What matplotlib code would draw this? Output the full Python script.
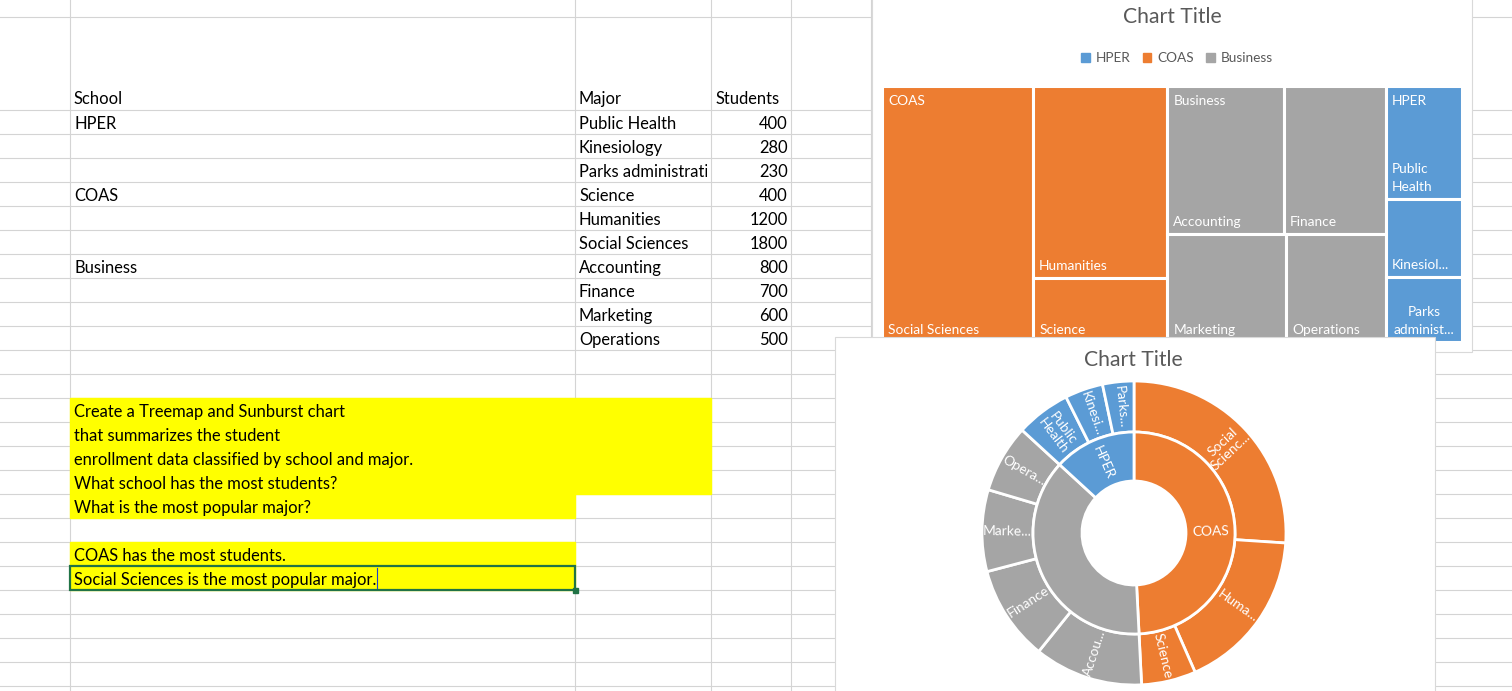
import matplotlib
matplotlib.use("Agg")
import numpy as np
import matplotlib.pyplot as plt
from matplotlib.patches import Rectangle, Patch
from matplotlib.transforms import Bbox, TransformedBbox

plt.rcParams["font.family"] = ["Lato", "DejaVu Sans"]

# === DATA ===
schools = ["HPER", "COAS", "Business"]
school_colors = ["#5B9BD5", "#ED7D31", "#A5A5A5"]
majors = ["Public Health", "Kinesiology", "Parks administration", "Science", "Humanities",
          "Social Sciences", "Accounting", "Finance", "Marketing", "Operations"]
major_school = ["HPER", "HPER", "HPER", "COAS", "COAS", "COAS",
                "Business", "Business", "Business", "Business"]
students = [400, 280, 230, 400, 1200, 1800, 800, 700, 600, 500]

# labels as the charts show them (Excel truncates long names)
treemap_labels = ["Public\nHealth", "Kinesiol...", "Parks\nadminist...", "Science", "Humanities",
                  "Social Sciences", "Accounting", "Finance", "Marketing", "Operations"]
sunburst_labels = ["Public\nHealth", "Kinesi...", "Parks...", "Science", "Huma...",
                   "Social\nScienc...", "Accou...", "Finance", "Marke...", "Opera..."]
sunburst_school_labels = ["HPER", "COAS", ""]

notes = ["Create a Treemap and Sunburst chart",
         "that summarizes the student",
         "enrollment data classified by school and major.",
         "What school has the most students?",
         "What is the most popular major?"]
answers = ["COAS has the most students.",
           "Social Sciences is the most popular major."]

# === STYLE ===
W, H = 1512, 691
GRID = "#d4d4d4"
BORDER = "#d9d9d9"
TITLE = "#595959"
YELLOW = "#FFFF00"
FS = 11.9      # sheet text
LFS = 9.9      # chart labels


def squarify(values, x, y, w, h):
    """squarified treemap layout, values sorted descending"""
    scale = w * h / sum(values)
    areas = [v * scale for v in values]
    rects = []
    i = 0
    while i < len(areas):
        short = min(w, h)

        def worst(r):
            side = sum(r) / short
            return max(max(side / (a / side), (a / side) / side) for a in r)

        row = [areas[i]]
        j = i + 1
        while j < len(areas) and worst(row + [areas[j]]) <= worst(row):
            row.append(areas[j])
            j += 1
        s = sum(row)
        if w >= h:
            cw = s / h
            yy = y
            for a in row:
                rects.append((x, yy, cw, a / cw))
                yy += a / cw
            x += cw
            w -= cw
        else:
            rh = s / w
            xx = x
            for a in row:
                rects.append((xx, y, a / rh, rh))
                xx += a / rh
            y += rh
            h -= rh
        i = j
    return rects


fig = plt.figure(figsize=(W / 100, H / 100), dpi=100)
ax = fig.add_axes([0, 0, 1, 1])
ax.set_xlim(0, W)
ax.set_ylim(H, 0)
ax.axis("off")

# === SPREADSHEET ===
row_lines = [17] + [110 + 24 * i for i in range(25)]
for y in row_lines:
    ax.plot([0, W], [y, y], color=GRID, lw=0.8, zorder=1)
for x in [70, 575, 711, 791, 871]:
    ax.plot([x, x], [0, H], color=GRID, lw=0.8, zorder=1)

ax.add_patch(Rectangle((70, 398), 641, 96, color=YELLOW, zorder=2))
ax.add_patch(Rectangle((70, 494), 505, 24, color=YELLOW, zorder=2))
ax.add_patch(Rectangle((70, 542), 505, 48, color=YELLOW, zorder=2))

ax.text(74, 99, "School", fontsize=FS, va="center", zorder=3)
ax.text(579, 99, "Major", fontsize=FS, va="center", zorder=3)
ax.text(715, 99, "Students", fontsize=FS, va="center", zorder=3)
prev = None
for i, (m, s, n) in enumerate(zip(major_school, majors, students)):
    yc = 110 + 24 * i + 14
    if m != prev:
        ax.text(74, yc, m, fontsize=FS, va="center", zorder=3)
        prev = m
    t = ax.text(579, yc, s, fontsize=FS, va="center", zorder=3)
    t.set_clip_on(True)
    t.set_clip_box(TransformedBbox(Bbox.from_extents(575, 0, 707, H), ax.transData))
    ax.text(788, yc, str(n), fontsize=FS, va="center", ha="right", zorder=3)

for i, line in enumerate(notes):
    ax.text(74, 398 + 24 * i + 14, line, fontsize=FS, va="center", zorder=3)
ans_texts = []
for i, line in enumerate(answers):
    ans_texts.append(ax.text(74, 542 + 24 * i + 14, line, fontsize=FS, va="center", zorder=3))

# selected cell
ax.add_patch(Rectangle((70, 566), 505, 24, fill=False, ec="#217346", lw=1.6, zorder=3))
ax.add_patch(Rectangle((573, 588), 5, 5, color="#217346", zorder=3))

# === TREEMAP ===
ax.add_patch(Rectangle((872, -3), 600, 355, fc="white", ec=BORDER, lw=0.8, zorder=3))
ax.text(1172, 17, "Chart Title", fontsize=15.2, color=TITLE, ha="center", va="center", zorder=5)
handles = [Patch(color=c, label=s) for s, c in zip(schools, school_colors)]
ax.legend(handles=handles, loc="center", bbox_to_anchor=(1177, 58), bbox_transform=ax.transData,
          ncol=3, frameon=False, fontsize=9.8, handlelength=0.62, handleheight=0.62,
          handletextpad=0.45, columnspacing=0.9, labelcolor=TITLE).set_zorder(5)

totals = [sum(n for m, n in zip(major_school, students) if m == s) for s in schools]
order = sorted(range(len(schools)), key=lambda k: -totals[k])
group_rects = squarify([totals[k] for k in order], 882, 86, 580, 256)
for k, (gx, gy, gw, gh) in zip(order, group_rects):
    idx = [i for i, m in enumerate(major_school) if m == schools[k]]
    idx = sorted(idx, key=lambda i: -students[i])
    cells = squarify([students[i] for i in idx], gx, gy, gw, gh)
    for j, (i, (cx, cy, cw, ch)) in enumerate(zip(idx, cells)):
        ax.add_patch(Rectangle((cx, cy), cw, ch, fc=school_colors[k], ec="white", lw=2.2, zorder=4))
        if j == 0:
            ax.text(cx + 6, cy + 15, schools[k], fontsize=LFS, color="white", va="center", zorder=5)
        lab = treemap_labels[i]
        if "\n" in lab and lab.startswith("Parks"):
            ax.text(cx + cw / 2, cy + ch - 6, lab, fontsize=LFS, color="white", ha="center",
                    va="bottom", multialignment="center", linespacing=1.6, zorder=5)
        else:
            ax.text(cx + 6, cy + ch - 6, lab, fontsize=LFS, color="white", va="bottom",
                    linespacing=1.6, zorder=5)

# === SUNBURST ===
ax.add_patch(Rectangle((835, 337), 600, 360, fc="white", ec=BORDER, lw=0.8, zorder=6))
ax.text(1133, 360, "Chart Title", fontsize=15.2, color=TITLE, ha="center", va="center", zorder=7)

cx, cy, half = 1134, 533, 160
sax = fig.add_axes([(cx - half) / W, (H - cy - half) / H, 2 * half / W, 2 * half / H])
sax.patch.set_visible(False)

inner_vals = [totals[k] for k in order]
inner_cols = [school_colors[k] for k in order]
outer_idx = []
for k in order:
    idx = [i for i, m in enumerate(major_school) if m == schools[k]]
    outer_idx += sorted(idx, key=lambda i: -students[i])
outer_vals = [students[i] for i in outer_idx]
outer_cols = [school_colors[schools.index(major_school[i])] for i in outer_idx]

wp = dict(edgecolor="white", linewidth=2)
sax.pie(outer_vals, radius=152, colors=outer_cols, startangle=90, counterclock=False,
        wedgeprops=dict(width=51, **wp))
sax.pie(inner_vals, radius=101, colors=inner_cols, startangle=90, counterclock=False,
        wedgeprops=dict(width=49, **wp))
sax.set_xlim(-half, half)
sax.set_ylim(-half, half)
sax.axis("off")


def ring_labels(vals, labels, r):
    total = sum(vals)
    cum = 0
    for v, lab in zip(vals, labels):
        ang = 90 - 360 * (cum + v / 2) / total
        cum += v
        if not lab:
            continue
        rot = ang
        while rot > 90:
            rot -= 180
        while rot < -90:
            rot += 180
        x = r * np.cos(np.radians(ang))
        y = r * np.sin(np.radians(ang))
        sax.text(x, y, lab, fontsize=LFS, color="white", ha="center", va="center",
                 rotation=rot, rotation_mode="anchor", linespacing=1.0)


ring_labels(outer_vals, [sunburst_labels[i] for i in outer_idx], 126.5)
ring_labels(inner_vals, [sunburst_school_labels[k] for k in order], 76.5)

# text cursor after the edited cell
fig.canvas.draw()
bb = ans_texts[1].get_window_extent()
x_end = ax.transData.inverted().transform((bb.x1, bb.y0))[0]
ax.plot([x_end + 1, x_end + 1], [568, 588], color="#1f3fd0", lw=0.8, zorder=4)

fig.savefig("out.png", dpi=100)
